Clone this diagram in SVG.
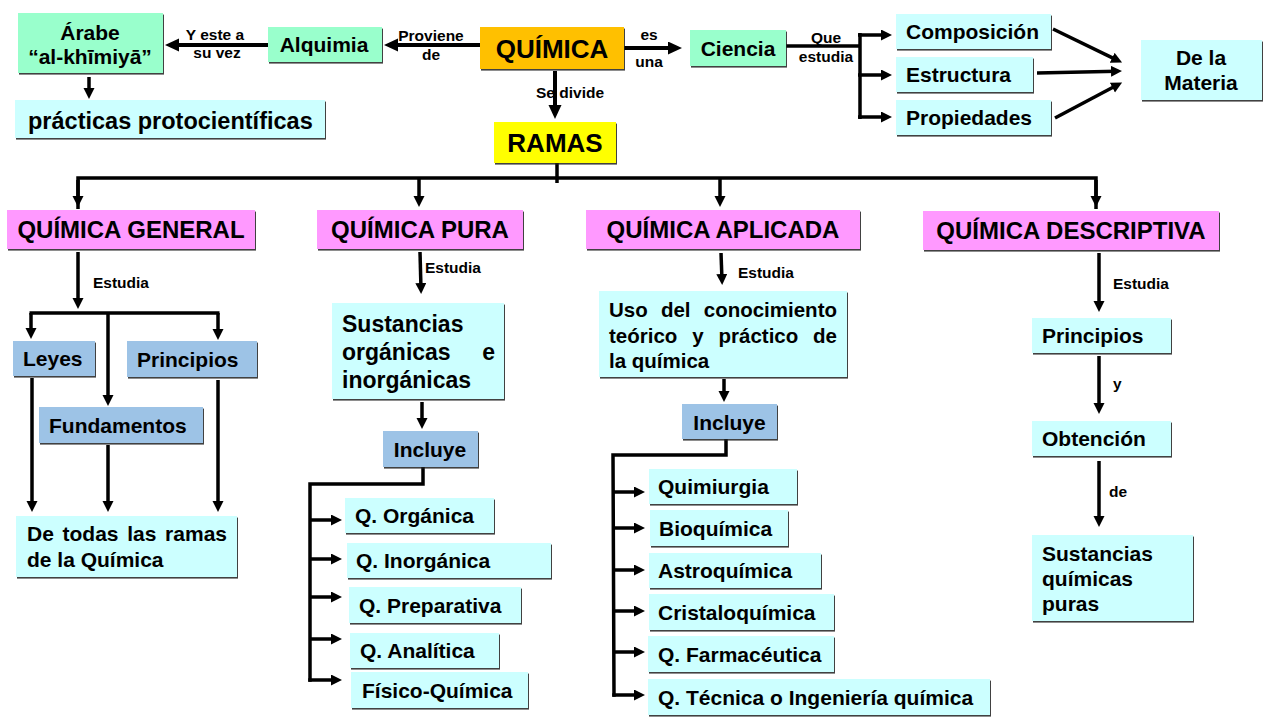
<svg xmlns="http://www.w3.org/2000/svg" width="1280" height="720" viewBox="0 0 1280 720">
<defs>
<style>
.t{font-family:"Liberation Sans",Arial,sans-serif;font-weight:bold;fill:#000}
.s15{font-size:15.5px}.s21{font-size:21px}.s23{font-size:24px}
.c{text-anchor:middle}.e{text-anchor:end}
.box{filter:url(#sh)}
.mint{fill:#99ffcc}.cyan{fill:#ccffff}.blue{fill:#9dc3e6}.mag{fill:#ff99ff}.org{fill:#ffc000}.yel{fill:#ffff00}
.ln{fill:none;stroke:#000;stroke-width:3.5}
.ar{fill:none;stroke:#000;stroke-width:3.5;marker-end:url(#a)}
.AR{fill:none;stroke:#000;stroke-width:4;marker-end:url(#A)}
</style>
<filter id="sh" x="-5%" y="-5%" width="115%" height="130%">
<feDropShadow dx="1" dy="1.6" stdDeviation="0.3" flood-color="#222" flood-opacity="0.85"/>
</filter>
<marker id="a" markerUnits="userSpaceOnUse" markerWidth="12" markerHeight="12" refX="6" refY="5.5" orient="auto">
<path d="M0,0 L11,5.5 L0,11 z" fill="#000"/>
</marker>
<marker id="A" markerUnits="userSpaceOnUse" markerWidth="15" markerHeight="14" refX="7" refY="6.5" orient="auto">
<path d="M0,0 L14,6.5 L0,13 z" fill="#000"/>
</marker>
</defs>
<rect width="1280" height="720" fill="#fff"/>

<g id="connectors">
<line class="AR" x1="268" y1="45" x2="172" y2="45"/>
<line class="ar" x1="89" y1="77" x2="89" y2="94"/>
<line class="AR" x1="480" y1="45" x2="391" y2="45"/>
<line class="AR" x1="624" y1="48" x2="675" y2="48"/>
<polyline class="ln" points="786,46 860,46"/>
<line class="ln" x1="860" y1="33" x2="860" y2="119"/>
<line class="ar" x1="858" y1="35" x2="887" y2="35"/>
<line class="ar" x1="858" y1="75" x2="887" y2="75"/>
<line class="ar" x1="858" y1="117" x2="887" y2="117"/>
<line class="ar" x1="1053" y1="29" x2="1117.6" y2="60.4"/>
<line class="ar" x1="1037" y1="73" x2="1117" y2="71.2"/>
<line class="ar" x1="1055" y1="118" x2="1117.7" y2="84.8"/>
<text class="t s15 c" x="570" y="98">Se divide</text>
<line class="AR" x1="555" y1="71" x2="555" y2="112"/>
<line class="ln" x1="557" y1="163" x2="557" y2="183"/>
<polyline class="ln" points="78,209 78,178 1096,178 1096,209"/>
<line class="ar" x1="78" y1="180" x2="78" y2="202"/>
<line class="ar" x1="419" y1="178" x2="419" y2="202"/>
<line class="ar" x1="720" y1="178" x2="720" y2="202"/>
<line class="ar" x1="1096" y1="180" x2="1096" y2="202"/>
<line class="ar" x1="78" y1="252" x2="78" y2="304"/>
<line class="ln" x1="29.5" y1="313" x2="219.5" y2="313"/>
<line class="ar" x1="31" y1="313" x2="31" y2="334"/>
<line class="ar" x1="108" y1="313" x2="108" y2="401"/>
<line class="ar" x1="218" y1="313" x2="218" y2="335"/>
<line class="ar" x1="32" y1="378" x2="32" y2="507"/>
<line class="ar" x1="108" y1="445" x2="108" y2="507"/>
<line class="ar" x1="218" y1="380" x2="218" y2="507"/>
<line class="ar" x1="420" y1="252" x2="421" y2="289"/>
<line class="ar" x1="422" y1="402" x2="422" y2="424"/>
<polyline class="ln" points="423,467 423,484 310,484 310,681.75"/>
<line class="ar" x1="310" y1="520" x2="337" y2="520"/>
<line class="ar" x1="310" y1="559" x2="337" y2="559"/>
<line class="ar" x1="310" y1="597" x2="337" y2="597"/>
<line class="ar" x1="310" y1="639" x2="337" y2="639"/>
<line class="ar" x1="308.25" y1="680" x2="337" y2="680"/>
<line class="ar" x1="721" y1="253" x2="722" y2="280"/>
<line class="ar" x1="724" y1="379" x2="724" y2="397"/>
<polyline class="ln" points="726,439 726,455 613,455 614,696.75"/>
<line class="ar" x1="613" y1="492" x2="640" y2="492"/>
<line class="ar" x1="613" y1="528" x2="640" y2="528"/>
<line class="ar" x1="613" y1="570" x2="640" y2="570"/>
<line class="ar" x1="613" y1="611" x2="640" y2="611"/>
<line class="ar" x1="614" y1="652" x2="640" y2="652"/>
<line class="ar" x1="612.25" y1="695" x2="640" y2="695"/>
<line class="ar" x1="1099" y1="253" x2="1099" y2="307"/>
<line class="ar" x1="1099" y1="356" x2="1099" y2="409"/>
<line class="ar" x1="1099" y1="461" x2="1099" y2="522"/>
<text class="t s15 c" x="215" y="40">Y este a</text>
<text class="t s15 c" x="217" y="58">su vez</text>
<text class="t s15 c" x="431" y="41">Proviene</text>
<text class="t s15 c" x="431" y="60">de</text>
<text class="t s15 c" x="649" y="40">es</text>
<text class="t s15 c" x="649" y="67">una</text>
<text class="t s15 c" x="826" y="43">Que</text>
<text class="t s15 c" x="826" y="62">estudia</text>
<text class="t s15" x="93" y="288">Estudia</text>
<text class="t s15" x="425" y="273">Estudia</text>
<text class="t s15" x="738" y="278">Estudia</text>
<text class="t s15" x="1113" y="289">Estudia</text>
<text class="t s15" x="1113" y="389">y</text>
<text class="t s15" x="1109" y="497">de</text>
</g>

<g id="arabe"><rect class="box mint" x="18" y="13" width="145" height="60"/>
<text class="t s21 c" x="90" y="40">Árabe</text><text class="t s21 c" x="90" y="64">“al-khīmiyā”</text></g>
<g id="practicas"><rect class="box cyan" x="15" y="100" width="310" height="38"/>
<text class="t" x="28" y="129" style="font-size:23.5px">prácticas protocientíficas</text></g>
<g id="alquimia"><rect class="box mint" x="268" y="27" width="114" height="35"/>
<text class="t s21 c" x="324" y="52">Alquimia</text></g>
<g id="quimica"><rect class="box org" x="480" y="27" width="144" height="42"/>
<text class="t c" x="552" y="57.5" style="font-size:26px">QUÍMICA</text></g>
<g id="ciencia"><rect class="box mint" x="690" y="30" width="96" height="36"/>
<text class="t s21 c" x="738" y="55.5">Ciencia</text></g>
<g id="composicion"><rect class="box cyan" x="896" y="14" width="155" height="35"/>
<text class="t s21" x="906" y="39">Composición</text></g>
<g id="estructura"><rect class="box cyan" x="896" y="57" width="137" height="35"/>
<text class="t s21" x="906" y="82">Estructura</text></g>
<g id="propiedades"><rect class="box cyan" x="896" y="100" width="155" height="35"/>
<text class="t s21" x="906" y="125">Propiedades</text></g>
<g id="materia"><rect class="box cyan" x="1141" y="40" width="121" height="60"/>
<text class="t s21 c" x="1201" y="65">De la</text><text class="t s21 c" x="1201" y="90">Materia</text></g>
<g id="ramas"><rect class="box yel" x="494" y="122" width="122" height="41"/>
<text class="t c" x="555" y="152" style="font-size:26px">RAMAS</text></g>

<g id="q-general"><rect class="box mag" x="7" y="210" width="248" height="39"/>
<text class="t s23 c" x="131" y="238">QUÍMICA GENERAL</text></g>
<g id="q-pura"><rect class="box mag" x="317" y="210" width="206" height="39"/>
<text class="t s23 c" x="420" y="238">QUÍMICA PURA</text></g>
<g id="q-aplicada"><rect class="box mag" x="586" y="210" width="274" height="39"/>
<text class="t s23 c" x="723" y="238">QUÍMICA APLICADA</text></g>
<g id="q-descriptiva"><rect class="box mag" x="923" y="211" width="296" height="39"/>
<text class="t s23 c" x="1071" y="239">QUÍMICA DESCRIPTIVA</text></g>

<g id="leyes"><rect class="box blue" x="13" y="341" width="82" height="35"/>
<text class="t s21" x="23" y="366">Leyes</text></g>
<g id="principios-g"><rect class="box blue" x="127" y="341" width="130" height="36"/>
<text class="t s21" x="137" y="367">Principios</text></g>
<g id="fundamentos"><rect class="box blue" x="39" y="407" width="164" height="36"/>
<text class="t s21" x="49" y="433">Fundamentos</text></g>
<g id="todas"><rect class="box cyan" x="16" y="516" width="221" height="61"/>
<text class="t s21" x="27" y="541">De</text><text class="t s21" x="62.5" y="541">todas</text><text class="t s21" x="127.2" y="541">las</text><text class="t s21 e" x="227" y="541">ramas</text>
<text class="t s21" x="27" y="567">de la Química</text></g>

<g id="sust-org"><rect class="box cyan" x="332" y="303" width="172" height="96"/>
<text class="t" x="342" y="332" style="font-size:23px">Sustancias</text>
<text class="t" x="342" y="360" style="font-size:23px">orgánicas</text><text class="t e" x="495" y="360" style="font-size:23px">e</text>
<text class="t" x="342" y="388" style="font-size:23px">inorgánicas</text></g>
<g id="incluye-p"><rect class="box blue" x="383" y="431" width="95" height="36"/>
<text class="t s21 c" x="430" y="457">Incluye</text></g>
<g id="q-organica"><rect class="box cyan" x="345" y="498" width="149" height="35"/>
<text class="t s21" x="355" y="523">Q. Orgánica</text></g>
<g id="q-inorganica"><rect class="box cyan" x="347" y="543" width="204" height="35"/>
<text class="t s21" x="356" y="568">Q. Inorgánica</text></g>
<g id="q-preparativa"><rect class="box cyan" x="349" y="587" width="172" height="36"/>
<text class="t s21" x="359" y="613">Q. Preparativa</text></g>
<g id="q-analitica"><rect class="box cyan" x="350" y="633" width="149" height="35"/>
<text class="t s21" x="360" y="658">Q. Analítica</text></g>
<g id="fisico-quimica"><rect class="box cyan" x="351" y="672" width="177" height="36"/>
<text class="t s21" x="362" y="698">Físico-Química</text></g>

<g id="uso"><rect class="box cyan" x="599" y="291" width="248" height="86"/>
<text class="t" x="609" y="317" style="font-size:20.5px">Uso</text><text class="t" x="660.9" y="317" style="font-size:20.5px">del</text><text class="t e" x="837" y="317" style="font-size:20.5px">conocimiento</text>
<text class="t" x="609" y="343" style="font-size:20.5px">teórico</text><text class="t" x="692.2" y="343" style="font-size:20.5px">y</text><text class="t" x="718.5" y="343" style="font-size:20.5px">práctico</text><text class="t e" x="837" y="343" style="font-size:20.5px">de</text>
<text class="t" x="609" y="368" style="font-size:20.5px">la química</text></g>
<g id="incluye-a"><rect class="box blue" x="682" y="404" width="95" height="35"/>
<text class="t s21 c" x="729.5" y="430">Incluye</text></g>
<g id="quimiurgia"><rect class="box cyan" x="649" y="469" width="148" height="35"/>
<text class="t s21" x="658" y="494">Quimiurgia</text></g>
<g id="bioquimica"><rect class="box cyan" x="650" y="510" width="138" height="36"/>
<text class="t s21" x="659" y="536">Bioquímica</text></g>
<g id="astroquimica"><rect class="box cyan" x="649" y="553" width="172" height="35"/>
<text class="t s21" x="658" y="578">Astroquímica</text></g>
<g id="cristaloquimica"><rect class="box cyan" x="649" y="594" width="185" height="36"/>
<text class="t s21" x="658" y="620">Cristaloquímica</text></g>
<g id="farmaceutica"><rect class="box cyan" x="648" y="636" width="186" height="36"/>
<text class="t s21" x="658" y="662">Q. Farmacéutica</text></g>
<g id="tecnica"><rect class="box cyan" x="648" y="679" width="342" height="36"/>
<text class="t s21" x="658" y="705">Q. Técnica o Ingeniería química</text></g>

<g id="principios-d"><rect class="box cyan" x="1032" y="318" width="139" height="35"/>
<text class="t s21" x="1042" y="343">Principios</text></g>
<g id="obtencion"><rect class="box cyan" x="1032" y="421" width="139" height="35"/>
<text class="t s21" x="1042" y="446">Obtención</text></g>
<g id="sust-quim"><rect class="box cyan" x="1032" y="535" width="161" height="86"/>
<text class="t s21" x="1042" y="561">Sustancias</text>
<text class="t s21" x="1042" y="586">químicas</text>
<text class="t s21" x="1042" y="611">puras</text></g>
</svg>
